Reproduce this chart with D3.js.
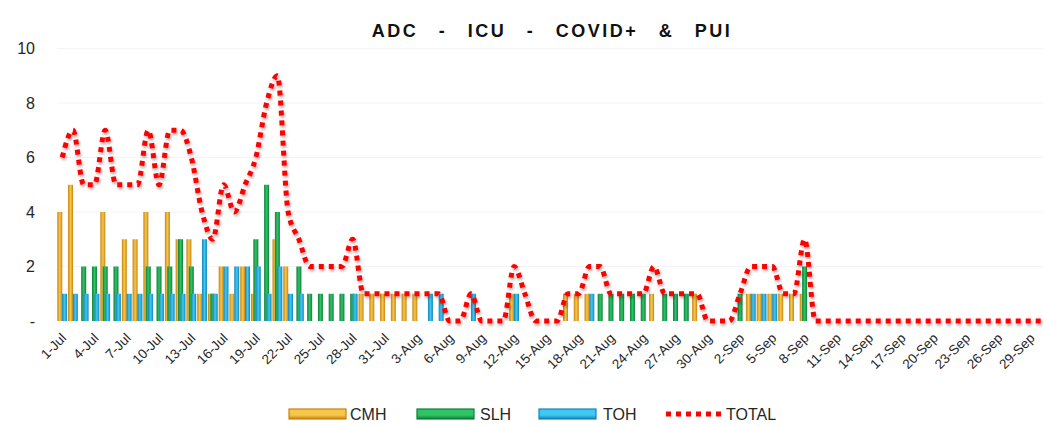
<!DOCTYPE html>
<html><head><meta charset="utf-8">
<script src="https://cdn.jsdelivr.net/npm/d3@7"></script>
<style>body{margin:0;background:#fff} text{font-family:"Liberation Sans",Arial,sans-serif}</style>
</head><body>
<svg id="c" width="1043" height="427"></svg>
<script>
// 1-Jul .. 30-Sep (92 days)
const categories = d3.timeDays(new Date(2020,6,1), new Date(2020,9,1)).map(d3.timeFormat("%-d-%b"));
const tickLabels = ["1-Jul","4-Jul","7-Jul","10-Jul","13-Jul","16-Jul","19-Jul","22-Jul","25-Jul","28-Jul","31-Jul",
  "3-Aug","6-Aug","9-Aug","12-Aug","15-Aug","18-Aug","21-Aug","24-Aug","27-Aug","30-Aug",
  "2-Sep","5-Sep","8-Sep","11-Sep","14-Sep","17-Sep","20-Sep","23-Sep","26-Sep","29-Sep"];
const yTicks = [0,2,4,6,8,10];
const seriesNames = ["CMH","SLH","TOH"];
const CMH = [4,5,0,0,4,0,3,3,4,0, 4,3,3,1,1,2,1,2,1,0, 3,2,0,0,0,0,0,0,1,1, 1,1,1,1,0,0,0,0,0,0,
             0,0,1,0,0,0,0,1,1,1, 0,0,0,0,0,1,0,0,0,1, 0,0,0,0,1,1,1,1,1,1, 0,0,0,0,0,0,0,0,0,0,
             0,0,0,0,0,0,0,0,0,0, 0,0];
const SLH = [0,0,2,2,2,2,0,0,2,2, 2,3,2,0,1,0,0,0,3,5, 4,0,2,1,1,1,1,1,0,0, 0,0,0,0,0,0,0,0,0,0,
             0,0,0,0,0,0,0,0,0,0, 1,1,1,1,1,0,1,1,1,0, 0,0,0,1,0,0,0,0,0,2, 0,0,0,0,0,0,0,0,0,0,
             0,0,0,0,0,0,0,0,0,0, 0,0];
const TOH = [1,1,1,1,1,1,1,1,1,1, 1,1,1,3,1,2,2,2,2,1, 2,1,1,0,0,0,0,1,0,0, 0,0,0,0,1,1,0,0,1,0,
             0,0,1,0,0,0,0,0,0,1, 0,0,0,0,0,0,0,0,0,0, 0,0,0,0,1,1,1,0,0,0, 0,0,0,0,0,0,0,0,0,0,
             0,0,0,0,0,0,0,0,0,0, 0,0];
const TOTAL = [6,7,5,5,7,5,5,5,7,5, 7,7,6,4,3,5,4,5,6,8, 9,4,3,2,2,2,2,3,1,1, 1,1,1,1,1,1,0,0,1,0,
               0,0,2,1,0,0,0,1,1,2, 2,1,1,1,1,2,1,1,1,1, 0,0,0,1,2,2,2,1,1,3, 0,0,0,0,0,0,0,0,0,0,
               0,0,0,0,0,0,0,0,0,0, 0,0];

const svg = d3.select("#c");
const W = 1043, H = 427;
const band = 10.76, left = 56.8;
const x = d3.scaleBand().domain(categories).range([left, left + band*categories.length]).padding(0);
const y = d3.scaleLinear().domain([0,10]).range([321, 48.5]);

const defs = svg.append("defs");
const colors = {
  CMH: ["#C9820F","#F6C84A","#C9820F"],
  SLH: ["#0E7F38","#2FC467","#0E7F38"],
  TOH: ["#1584B8","#3FC8F2","#1584B8"]
};
seriesNames.forEach(n => {
  const g = defs.append("linearGradient").attr("id","g"+n).attr("x1","0").attr("x2","1").attr("y1","0").attr("y2","0");
  g.append("stop").attr("offset","0%").attr("stop-color",colors[n][0]);
  g.append("stop").attr("offset","50%").attr("stop-color",colors[n][1]);
  g.append("stop").attr("offset","100%").attr("stop-color",colors[n][2]);
});
const f = defs.append("filter").attr("id","sh").attr("x","-10%").attr("y","-10%").attr("width","120%").attr("height","130%");
f.append("feGaussianBlur").attr("in","SourceAlpha").attr("stdDeviation",1.5).attr("result","b");
f.append("feOffset").attr("in","b").attr("dx",1).attr("dy",2).attr("result","o");
f.append("feComponentTransfer").attr("in","o").attr("result","o2").append("feFuncA").attr("type","linear").attr("slope",0.35);
const m = f.append("feMerge"); m.append("feMergeNode").attr("in","o2"); m.append("feMergeNode").attr("in","SourceGraphic");

// gridline (faint)
svg.append("g").selectAll("line").data(yTicks.filter(d=>d>0)).join("line")
  .attr("x1",left).attr("x2",W).attr("y1",d=>y(d)).attr("y2",d=>y(d))
  .attr("stroke","#f4f4f4").attr("stroke-width",1);

// bars
const bw = 5, step = 2.4;
const data = {CMH, SLH, TOH};
seriesNames.forEach((n,si) => {
  svg.append("g").selectAll("rect").data(data[n].map((v,i)=>({c:categories[i],v}))).join("rect")
    .filter(d=>d.v>0)
    .attr("x", d => x(d.c) + x.bandwidth()/2 + (si-1)*step - bw/2)
    .attr("width", bw)
    .attr("y", d => y(d.v))
    .attr("height", d => y(0)-y(d.v))
    .attr("fill","url(#g"+n+")");
});

// total line
const line = d3.line().x((d,i)=>x(categories[i])+x.bandwidth()/2).y(d=>y(d)).curve(d3.curveMonotoneX);
svg.append("path").datum(TOTAL).attr("d",line).attr("fill","none").attr("stroke","#FF0000")
  .attr("stroke-width",5).attr("stroke-dasharray","5,5").attr("filter","url(#sh)");

// y axis labels
svg.append("g").selectAll("text").data(yTicks).join("text")
  .attr("x",35).attr("y",d=>y(d)).attr("dy","0.35em").attr("text-anchor","end")
  .attr("font-size",16).attr("fill","#262626").text(d=>d===0?"-":d);

// x labels
svg.append("g").selectAll("text").data(tickLabels).join("text")
  .attr("text-anchor","end").attr("font-size",13.5).attr("fill","#262626")
  .attr("transform",d=>`translate(${x(d)+x.bandwidth()/2+5},${339}) rotate(-45)`)
  .text(d=>d);

// title
svg.append("text").attr("x",552).attr("y",37).attr("text-anchor","middle")
  .attr("font-size",18).attr("font-weight","bold").attr("letter-spacing","2.5px").attr("word-spacing","13px")
  .attr("fill","#111").text("ADC - ICU - COVID+ & PUI");

// legend
const lg = svg.append("g");
const legendItems = [
  {n:"CMH", x:289, tx:350},
  {n:"SLH", x:417, tx:480},
  {n:"TOH", x:539, tx:603}
];
legendItems.forEach(it=>{
  const g2 = defs.append("linearGradient").attr("id","lg"+it.n).attr("x1","0").attr("x2","0").attr("y1","0").attr("y2","1");
  g2.append("stop").attr("offset","0%").attr("stop-color",colors[it.n][1]);
  g2.append("stop").attr("offset","60%").attr("stop-color",colors[it.n][1]);
  g2.append("stop").attr("offset","100%").attr("stop-color",colors[it.n][0]);
  lg.append("rect").attr("x",it.x).attr("y",409).attr("width",57).attr("height",10).attr("fill","url(#lg"+it.n+")")
    .attr("stroke",colors[it.n][0]).attr("stroke-width",1.2);
  lg.append("text").attr("x",it.tx).attr("y",414).attr("dy","0.35em").attr("font-size",16).attr("fill","#262626").text(it.n);
});
lg.append("line").attr("x1",666).attr("x2",724).attr("y1",414).attr("y2",414).attr("stroke","#FF0000")
  .attr("stroke-width",5).attr("stroke-dasharray","5,5");
lg.append("text").attr("x",726).attr("y",414).attr("dy","0.35em").attr("font-size",16).attr("fill","#262626").text("TOTAL");
</script>
</body></html>
